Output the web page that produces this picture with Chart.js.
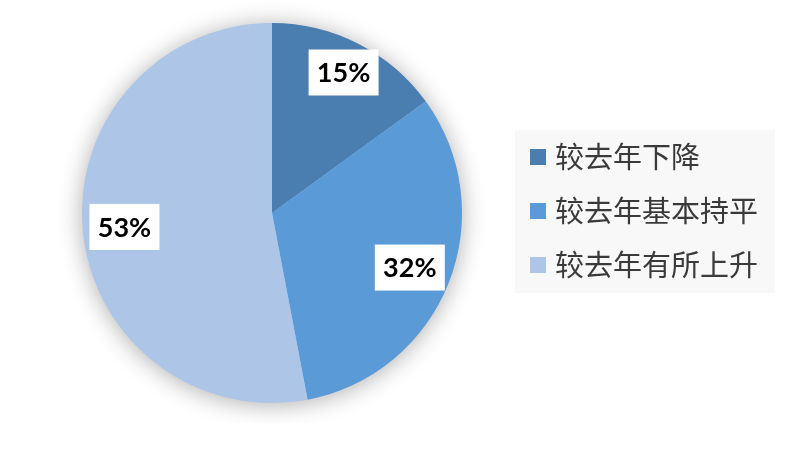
<!DOCTYPE html>
<html>
<head>
<meta charset="utf-8">
<script src="https://cdn.jsdelivr.net/npm/chart.js@4/dist/chart.umd.min.js"></script>
<style>
  html, body { margin: 0; padding: 0; background: #fff; }
  #wrap { width: 796px; height: 453px; }
</style>
</head>
<body>
<div id="wrap"><canvas id="pieChart" width="796" height="453"></canvas></div>
<script>
const categories = ["较去年下降", "较去年基本持平", "较去年有所上升"];
const shares = [15, 32, 53];
const colors = ["#4a7eb0", "#5a9ad6", "#adc5e6"];

// soft shadow under the whole pie, drawn once so slices don't shade each other
const pieShadow = {
  id: "pieShadow",
  beforeDatasetsDraw(chart) {
    const arc = chart.getDatasetMeta(0).data[0];
    if (!arc) return;
    const ctx = chart.ctx;
    ctx.save();
    ctx.beginPath();
    ctx.rect(0, 0, chart.width, 423);
    ctx.clip();
    ctx.shadowColor = "rgba(0,0,0,0.33)";
    ctx.shadowBlur = 24;
    ctx.shadowOffsetY = 2;
    ctx.fillStyle = "#adc5e6";
    ctx.beginPath();
    ctx.arc(arc.x, arc.y, arc.outerRadius - 0.5, 0, Math.PI * 2);
    ctx.fill();
    ctx.restore();
  }
};

// white boxed percentage labels inside slices
const boxLabels = {
  id: "boxLabels",
  afterDatasetsDraw(chart) {
    const ctx = chart.ctx;
    const meta = chart.getDatasetMeta(0);
    ctx.save();
    ctx.font = "bold 27px Lato, 'Open Sans', sans-serif";
    ctx.textAlign = "center";
    ctx.textBaseline = "middle";
    meta.data.forEach((arc, i) => {
      const mid = (arc.startAngle + arc.endAngle) / 2;
      const r = arc.outerRadius * (i === 0 ? 0.83 : 0.78);
      const x = arc.x + Math.cos(mid) * r;
      const y = arc.y + Math.sin(mid) * r;
      ctx.fillStyle = "#fff";
      ctx.fillRect(x - 35, y - 23, 70, 46);
      ctx.fillStyle = "#000";
      ctx.fillText(shares[i] + "%", x, y + 1);
    });
    ctx.restore();
  }
};

// legend panel on the right
const sideLegend = {
  id: "sideLegend",
  afterDraw(chart) {
    const ctx = chart.ctx;
    ctx.save();
    ctx.fillStyle = "#f8f8f8";
    ctx.fillRect(515, 130, 260, 163);
    ctx.font = "29px 'Noto Sans CJK SC', sans-serif";
    ctx.textBaseline = "middle";
    ctx.textAlign = "left";
    categories.forEach((name, i) => {
      const cy = 157 + i * 54;
      ctx.fillStyle = colors[i];
      ctx.fillRect(530, cy - 8, 16, 16);
      ctx.fillStyle = "#3a3a3a";
      ctx.fillText(name, 555, cy);
    });
    ctx.restore();
  }
};

new Chart(document.getElementById("pieChart"), {
  type: "pie",
  data: {
    labels: categories,
    datasets: [{
      data: shares,
      backgroundColor: colors,
      borderWidth: 0
    }]
  },
  options: {
    responsive: false,
    animation: false,
    layout: { padding: { left: 82, top: 23, right: 334, bottom: 50 } },
    plugins: {
      legend: { display: false },
      tooltip: { enabled: false }
    }
  },
  plugins: [pieShadow, boxLabels, sideLegend]
});
</script>
</body>
</html>
